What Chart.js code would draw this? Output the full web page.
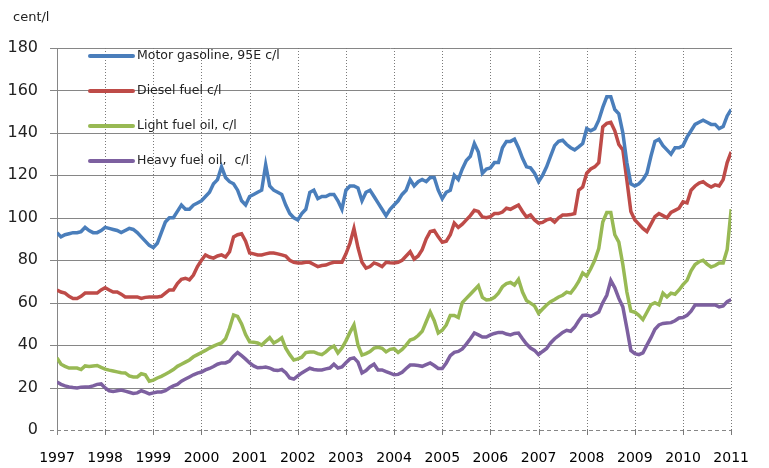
<!DOCTYPE html>
<html>
<head>
<meta charset="utf-8">
<script src="https://cdn.jsdelivr.net/npm/chart.js@4.4.1/dist/chart.umd.min.js"></script>
<style>
  body { margin: 0; background: #fff; }
  #wrap { width: 769px; height: 468px; position: relative; }
</style>
</head>
<body>
<div id="wrap"><canvas id="fuelChart"></canvas></div>
<script>
// monthly prices, Jan 1997 .. Jan 2011
const firstYear = 1997
const yearTicks = [1997, 1998, 1999, 2000, 2001, 2002, 2003, 2004, 2005, 2006, 2007, 2008, 2009, 2010, 2011]
const seriesLabels = ['Motor gasoline, 95E c/l', 'Diesel fuel c/l', 'Light fuel oil, c/l', 'Heavy fuel oil,  c/l']

const gasoline = [
  93, 91, 92, 92.5, 93, 93, 93.5, 95.5, 94, 93, 93, 94,
  95.5, 95, 94.5, 94, 93, 94, 95, 94.5, 93, 91, 89, 87,
  86, 88, 93, 98, 100, 100, 103, 106, 104, 104, 106, 107,
  108, 110, 112, 116, 118, 124, 119, 117, 116, 113, 108, 106,
  110, 111, 112, 113, 125, 115, 113, 112, 111, 106, 102, 100,
  99, 102, 104, 112, 113, 109, 110, 110, 111, 111, 108, 104,
  113, 115, 115, 114, 108, 112, 113, 110, 107, 104, 101, 104,
  106, 108, 111, 113, 118, 115, 117, 118, 117, 119, 119, 113,
  109, 112, 113, 120, 118, 123, 127, 129, 135, 131, 121, 123,
  123.5, 126, 126, 133, 136, 136, 137, 133, 128, 124, 123.5, 121,
  117, 120, 124, 129, 134, 136, 136.5, 134.5, 133, 132, 133.4, 135,
  142, 141, 142, 146, 152, 157, 157, 151, 149, 140, 126, 116,
  115, 116, 118, 121, 129, 136, 137, 134, 132, 130, 133, 133,
  134, 138, 141, 144, 145, 146, 145, 144, 144, 142, 143, 148,
  151
]
const diesel = [
  66, 65, 64.5, 63, 62, 62, 63, 64.5, 64.5, 64.5, 64.5, 66,
  67, 66, 65, 65, 64, 62.7, 62.7, 62.7, 62.7, 62, 62.5, 62.7,
  62.7, 62.7, 63, 64.5, 66, 66, 69, 71, 71.5, 70.7, 73, 77,
  80, 82.5, 81.5, 81, 82, 82.5, 81.5, 84, 91, 92, 92.5, 89,
  83.4, 83, 82.5, 82.5, 83, 83.4, 83.4, 83, 82.5, 82, 80, 79,
  78.7, 78.7, 79, 79, 78, 77, 77.5, 77.7, 78.5, 79, 79, 79,
  83, 88, 95, 86, 79, 76.3, 77, 78.7, 78, 77, 79, 78.8,
  78.7, 79, 80, 82, 84, 80.5, 82, 85, 90, 93.5, 94, 91,
  88.5, 89, 92, 97.5, 95.5, 97, 99, 101, 103.5, 103, 100.4, 100,
  100.5, 102, 102, 102.7, 104.5, 104, 105, 106, 103, 100.4, 101.3, 99,
  97.5, 97.8, 99, 99.5, 98, 100, 101.3, 101.3, 101.5, 102, 113, 114.5,
  121, 123, 124, 126, 142.8, 144.5, 145, 141, 134.5, 132, 117.8, 103,
  99, 97, 95, 93.5, 97, 100.5, 102, 101, 100, 102.5, 103.5, 104.5,
  107.5, 107, 113, 115, 116.4, 117, 115.5, 114.5, 115.5, 115, 118, 126,
  131
]
const lightOil = [
  34, 31, 30, 29.2, 29.2, 29.2, 28.5, 30.2, 29.9, 30.2, 30.4, 29.5,
  28.7, 28.2, 27.8, 27.4, 27, 26.9, 25.5, 25, 25, 26.5, 26, 23,
  23.5, 24.5, 25.3, 26.3, 27.3, 28.5, 30, 31, 32, 33, 34.5, 35.5,
  36.5, 37.5, 38.6, 39.5, 40.3, 41, 43, 48, 54.2, 53.5, 50, 45,
  41.5, 41.4, 41, 40, 41.8, 43.5, 41, 42, 43.4, 38.5, 35.5, 33,
  33.5, 34.3, 36.5, 36.8, 36.8, 36, 35.5, 36.8, 38.5, 39.5, 36.3, 38.6,
  42, 46, 49.5, 40, 35.3, 36, 37, 38.6, 39, 38.5, 36.8, 38,
  38.3, 36.5, 38, 40, 42.4, 43, 44.5, 46.5, 51, 55.6, 51.5, 45.7,
  47, 49.5, 54, 54, 53, 60, 62, 64, 66, 68, 62.5, 61.3,
  61.5, 62.5, 64.5, 67.5, 69, 69.5, 68.3, 71, 65, 61, 59.8, 58.5,
  55, 57, 58.9, 60.5, 61.5, 62.7, 63.5, 65, 64.5, 67, 70, 74,
  72.5, 76, 80, 85.5, 98, 102.5, 102.5, 92, 88.5, 78, 65, 56,
  55.5, 54, 52, 55.5, 59, 60, 59, 64.5, 62.7, 64.5, 64, 66,
  68.5, 70.5, 75, 78, 79.3, 80, 78.2, 76.8, 77.5, 78.7, 78.7, 85,
  104
]
const heavyOil = [
  22.6, 21.5, 20.8, 20.3, 20, 19.8, 20.2, 20.3, 20.3, 20.8, 21.5, 21.7,
  19.8, 18.5, 18.2, 18.5, 18.8, 18.3, 17.8, 17.2, 17.5, 18.5, 17.8, 17,
  17.5, 17.9, 17.9, 18.5, 19.8, 20.8, 21.5, 23, 24, 25, 26, 26.8,
  27.3, 28.3, 29, 29.9, 31, 31.6, 31.6, 32.5, 34.8, 36.5, 35, 33.4,
  31.6, 30.2, 29.3, 29.4, 29.7, 29.2, 28.3, 28, 28.5, 27, 24.5, 24,
  25.5, 26.9, 28, 29.1, 28.5, 28.3, 28.3, 28.8, 29.2, 31, 29.2, 29.7,
  31.7, 33.5, 34, 32, 26.9, 28, 29.8, 31, 28.3, 28.3, 27.5, 26.8,
  26, 26.2, 27.2, 29, 30.6, 30.6, 30.4, 30, 30.8, 31.6, 30.4, 29,
  29, 31.6, 35, 36.6, 37, 38.2, 40.5, 43, 45.7, 44.8, 43.8, 43.8,
  44.8, 45.5, 46, 46, 45.2, 44.8, 45.5, 45.7, 43, 40.5, 38.6, 37.5,
  35.5, 37, 38.4, 41, 43, 44.5, 46, 47, 46.5, 48.5, 51.5, 54,
  54.2, 53.5, 54.5, 55.6, 60, 63.5, 70.5, 67, 62, 58, 48, 37.5,
  36, 35.5, 36.3, 40, 43.5, 47.5, 49.5, 50.2, 50.4, 50.6, 51.5, 52.8,
  53, 54, 56, 58.9, 58.9, 58.9, 58.9, 58.9, 58.9, 58, 58.5, 60.5,
  61.5
]
const seriesColors = ['#4a7ebb', '#be4b48', '#98b954', '#7d60a0']

function toPoints(values) {
  return values.map((v, i) => ({ x: firstYear + i / 12, y: v }))
}

// grid from the scales' own ticks: solid horizontals, dashed zero line, dotted years
const gridLines = {
  id: 'gridLines',
  beforeDatasetsDraw(chart) {
    const { ctx, chartArea: a, scales } = chart
    const x = scales.x
    const y = scales.y
    ctx.save()
    ctx.lineWidth = 1
    ctx.strokeStyle = '#868686'
    y.ticks.forEach((t) => {
      const py = Math.round(y.getPixelForValue(t.value)) + 0.5
      ctx.setLineDash(t.value === 0 ? [4, 3] : [])
      ctx.beginPath()
      ctx.moveTo(a.left - 7, py)
      ctx.lineTo(a.right, py)
      ctx.stroke()
    })
    ctx.strokeStyle = '#7a7a7a'
    x.ticks.forEach((t) => {
      const px = Math.round(x.getPixelForValue(t.value)) + 0.5
      ctx.setLineDash([1, 2])
      ctx.beginPath()
      ctx.moveTo(px, a.top)
      ctx.lineTo(px, a.bottom)
      ctx.stroke()
      ctx.setLineDash([])
      ctx.beginPath()
      ctx.moveTo(px, a.bottom)
      ctx.lineTo(px, a.bottom + 5)
      ctx.stroke()
    })
    // left axis line
    ctx.setLineDash([])
    ctx.strokeStyle = '#868686'
    const lx = Math.round(a.left) + 0.5
    ctx.beginPath()
    ctx.moveTo(lx, a.top)
    ctx.lineTo(lx, a.bottom + 5)
    ctx.stroke()
    ctx.restore()
  }
}

// legend inside the plot + unit text
const legendBox = {
  id: 'legendBox',
  afterDraw(chart) {
    const ctx = chart.ctx
    ctx.save()
    ctx.font = '13px "DejaVu Sans"'
    ctx.fillStyle = '#222'
    ctx.textBaseline = 'middle'
    ctx.fillText('cent/l', 13, 18)
    ctx.font = '12.5px "DejaVu Sans"'
    chart.data.datasets.forEach((ds, i) => {
      const y = 56 + i * 35
      ctx.strokeStyle = ds.borderColor
      ctx.lineWidth = 4
      ctx.lineCap = 'round'
      ctx.beginPath()
      ctx.moveTo(90, y)
      ctx.lineTo(133, y)
      ctx.stroke()
      ctx.fillText(ds.label, 137, y)
    })
    ctx.restore()
  }
}

const datasets = [gasoline, diesel, lightOil, heavyOil].map((vals, i) => ({
  label: seriesLabels[i],
  data: toPoints(vals),
  borderColor: seriesColors[i],
  backgroundColor: seriesColors[i],
  borderWidth: 3.5,
  pointRadius: 0,
  tension: 0,
  fill: false
}))

new Chart(document.getElementById('fuelChart'), {
  type: 'line',
  data: { datasets: datasets },
  plugins: [gridLines, legendBox],
  options: {
    responsive: true,
    maintainAspectRatio: false,
    animation: false,
    layout: { padding: { top: 48, right: 20, left: 0, bottom: 0 } },
    plugins: {
      legend: { display: false },
      tooltip: { enabled: false }
    },
    scales: {
      x: {
        type: 'linear',
        min: 1997,
        max: 2011,
        afterBuildTicks: (scale) => { scale.ticks = yearTicks.map(v => ({ value: v })) },
        afterFit: (scale) => { scale.height = 38 },
        ticks: {
          autoSkip: false,
          maxRotation: 0,
          color: '#000',
          padding: 20,
          font: { family: 'DejaVu Sans', size: 14 },
          callback: (v) => String(v)
        },
        grid: { drawOnChartArea: false, drawTicks: false },
        border: { display: false }
      },
      y: {
        min: 0,
        max: 180,
        afterFit: (scale) => { scale.width = 57 },
        ticks: {
          stepSize: 20,
          autoSkip: false,
          color: '#222',
          padding: 19,
          font: { family: 'DejaVu Sans', size: 16 }
        },
        grid: { drawOnChartArea: false, drawTicks: false },
        border: { display: false }
      }
    }
  }
})
</script>
</body>
</html>
